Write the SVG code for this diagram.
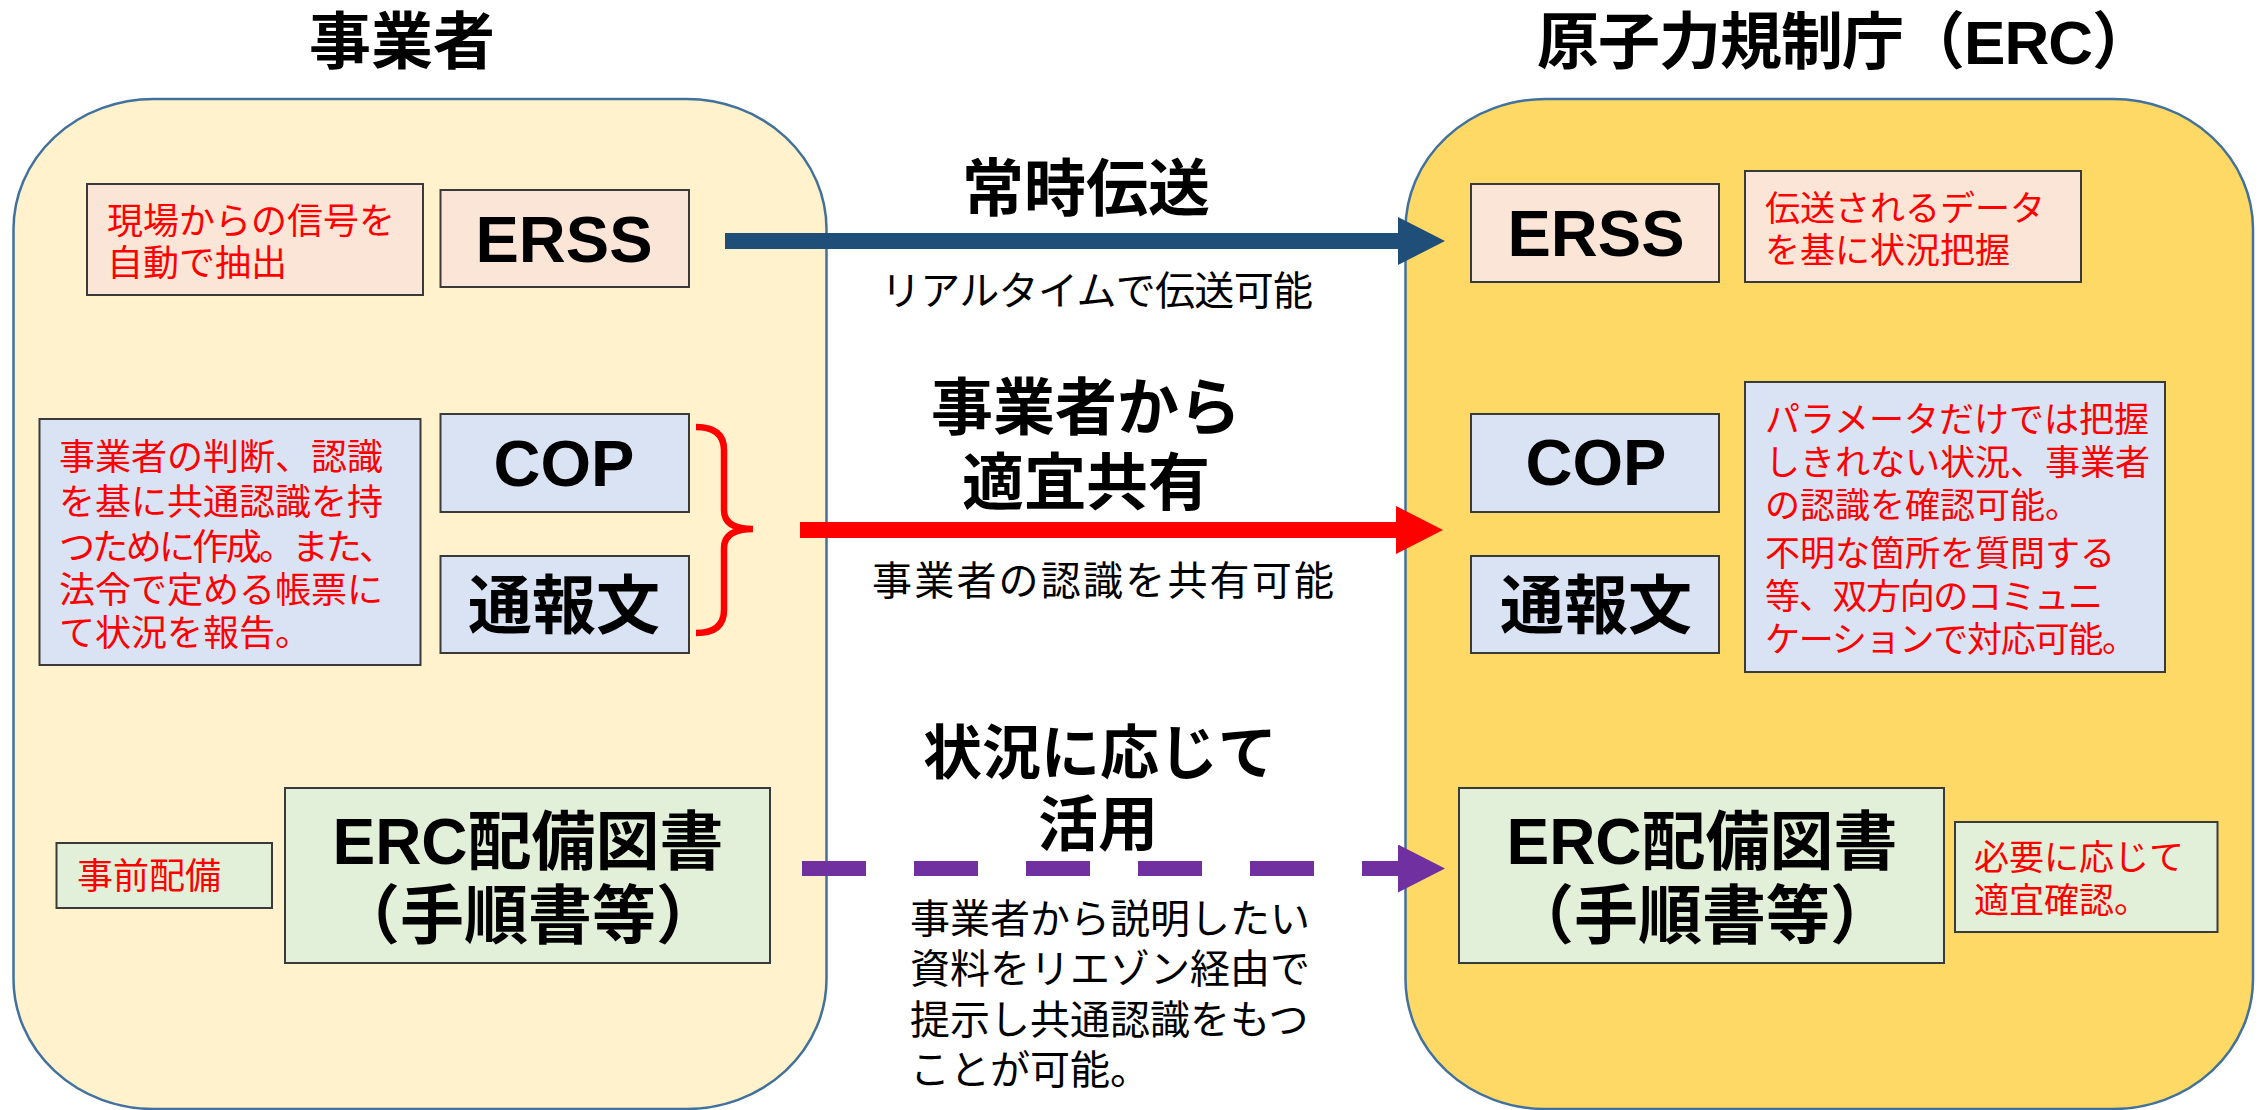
<svg xmlns="http://www.w3.org/2000/svg" width="2259" height="1110" viewBox="0 0 2259 1110">
<defs>
<style>
text{font-family:"Liberation Sans","Noto Sans CJK JP",sans-serif;}
.title{font-size:62px;font-weight:bold;fill:#000;text-anchor:middle;}
.lbl{font-size:65px;font-weight:bold;fill:#000;text-anchor:middle;}
.big{font-size:64px;font-weight:bold;fill:#000;text-anchor:middle;}
.head{font-size:62px;font-weight:bold;fill:#000;text-anchor:middle;}
.desc{font-size:40px;fill:#000;}
.red{font-size:36px;fill:#FF0000;}
.red35{font-size:35px;fill:#FF0000;}
.panel{stroke:#41719C;stroke-width:2.5;}
.box{stroke:#3A3A3A;stroke-width:2;}
.peach{fill:#FBE5D6;}
.blue{fill:#DAE3F3;}
.green{fill:#E2F0D9;}
</style>
<marker id="hBlue" viewBox="0 0 47 48" refX="0" refY="24" markerWidth="47" markerHeight="48" markerUnits="userSpaceOnUse" orient="auto"><path d="M0,0 L47,24 L0,48 Z" fill="#1F4E79"/></marker>
<marker id="hRed" viewBox="0 0 47 48" refX="0" refY="24" markerWidth="47" markerHeight="48" markerUnits="userSpaceOnUse" orient="auto"><path d="M0,0 L47,24 L0,48 Z" fill="#FF0000"/></marker>
<marker id="hPurple" viewBox="0 0 47 48" refX="0" refY="24" markerWidth="47" markerHeight="48" markerUnits="userSpaceOnUse" orient="auto"><path d="M0,0 L47,24 L0,48 Z" fill="#7030A0"/></marker>
</defs>
<rect width="2259" height="1110" fill="#FFFFFF"/>

<g id="panel-operator">
<rect class="panel" x="13.5" y="99" width="813" height="1010" rx="140" ry="130" fill="#FFF2CC"/>
<text class="title" x="402" y="64">事業者</text>
</g>
<g id="panel-erc">
<rect class="panel" x="1405.5" y="99" width="847.5" height="1010" rx="140" ry="130" fill="#FFD966"/>
<text class="title" x="1537" y="64" style="text-anchor:start" textLength="617">原子力規制庁（ERC）</text>
</g>

<g id="op-erss-note">
<rect class="box peach" x="87" y="184" width="336" height="111"/>
<text class="red" x="107" y="234">現場からの信号を</text>
<text class="red" x="107" y="276">自動で抽出</text>
</g>
<g id="op-erss">
<rect class="box peach" x="440.5" y="190" width="248.5" height="97"/>
<text class="lbl" x="564" y="262">ERSS</text>
</g>
<g id="op-cop-note">
<rect class="box blue" x="39.5" y="419" width="381" height="246"/>
<text class="red" x="59" y="470">事業者の判断、認識</text>
<text class="red" x="59" y="515">を基に共通認識を持</text>
<text class="red" x="59" y="560" textLength="336">つために作成。また、</text>
<text class="red" x="59" y="603">法令で定める帳票に</text>
<text class="red" x="59" y="646">て状況を報告。</text>
</g>
<g id="op-cop">
<rect class="box blue" x="440.5" y="414" width="248.5" height="98"/>
<text class="lbl" x="564" y="486">COP</text>
</g>
<g id="op-report">
<rect class="box blue" x="440.5" y="556" width="248.5" height="97"/>
<text class="big" x="564" y="628">通報文</text>
</g>
<g id="op-predeploy">
<rect class="box green" x="56.5" y="843" width="215.5" height="65"/>
<text class="red" x="77" y="889">事前配備</text>
</g>
<g id="op-docs">
<rect class="box green" x="285" y="788" width="485" height="175"/>
<text class="big" x="528" y="864">ERC配備図書</text>
<text class="big" x="528" y="938">（手順書等）</text>
</g>

<g id="erc-erss">
<rect class="box peach" x="1471" y="184" width="248" height="98"/>
<text class="lbl" x="1596" y="256">ERSS</text>
</g>
<g id="erc-erss-note">
<rect class="box peach" x="1745" y="171" width="336" height="111"/>
<text class="red35" x="1765" y="221">伝送されるデータ</text>
<text class="red35" x="1765" y="263">を基に状況把握</text>
</g>
<g id="erc-cop">
<rect class="box blue" x="1471" y="414" width="248" height="98"/>
<text class="lbl" x="1596" y="485">COP</text>
</g>
<g id="erc-report">
<rect class="box blue" x="1471" y="556" width="248" height="97"/>
<text class="big" x="1596" y="628">通報文</text>
</g>
<g id="erc-cop-note">
<rect class="box blue" x="1745" y="382" width="420" height="290"/>
<text class="red35" x="1765" y="432">パラメータだけでは把握</text>
<text class="red35" x="1765" y="475">しきれない状況、事業者</text>
<text class="red35" x="1765" y="518">の認識を確認可能。</text>
<text class="red35" x="1765" y="566">不明な箇所を質問する</text>
<text class="red35" x="1765" y="609" textLength="338">等、双方向のコミュニ</text>
<text class="red35" x="1765" y="652" textLength="372">ケーションで対応可能。</text>
</g>
<g id="erc-docs">
<rect class="box green" x="1459" y="788" width="485" height="175"/>
<text class="big" x="1702" y="864">ERC配備図書</text>
<text class="big" x="1702" y="938">（手順書等）</text>
</g>
<g id="erc-docs-note">
<rect class="box green" x="1955" y="822" width="262.5" height="110"/>
<text class="red35" x="1974" y="870">必要に応じて</text>
<text class="red35" x="1974" y="913">適宜確認。</text>
</g>

<g id="connectors">
<line x1="725" y1="241" x2="1398" y2="241" stroke="#1F4E79" stroke-width="16" marker-end="url(#hBlue)"/>
<path d="M696,427 Q724,427 724,450 L724,510 Q724,529 753,529 Q724,529 724,548 L724,610 Q724,633 696,633" fill="none" stroke="#FF0000" stroke-width="6.5"/>
<line x1="800" y1="530" x2="1396" y2="530" stroke="#FF0000" stroke-width="16" marker-end="url(#hRed)"/>
<line x1="802" y1="868.5" x2="1398" y2="868.5" stroke="#7030A0" stroke-width="15" stroke-dasharray="64 48" marker-end="url(#hPurple)"/>
</g>

<g id="labels">
<text class="head" x="1086" y="211">常時伝送</text>
<text class="desc" x="1097" y="305" text-anchor="middle" textLength="432">リアルタイムで伝送可能</text>
<text class="head" x="1086" y="430">事業者から</text>
<text class="head" x="1086" y="505">適宜共有</text>
<text class="desc" x="1103" y="595" text-anchor="middle" textLength="462">事業者の認識を共有可能</text>
<text class="head" x="1100" y="774" style="font-size:59px">状況に応じて</text>
<text class="head" x="1098" y="846" style="font-size:60px">活用</text>
<text class="desc" x="910" y="933">事業者から説明したい</text>
<text class="desc" x="910" y="983">資料をリエゾン経由で</text>
<text class="desc" x="910" y="1034">提示し共通認識をもつ</text>
<text class="desc" x="910" y="1084">ことが可能。</text>
</g>
</svg>
